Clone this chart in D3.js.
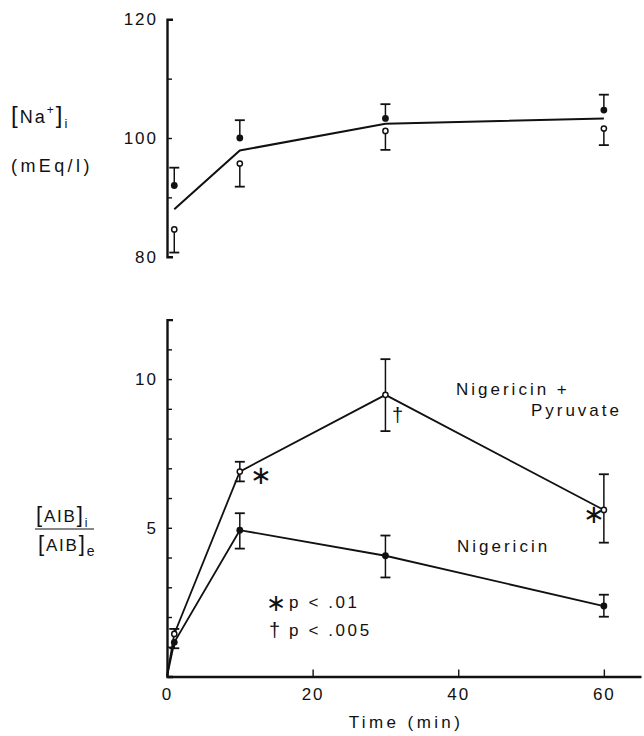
<!DOCTYPE html>
<html>
<head>
<meta charset="utf-8">
<script src="https://cdn.jsdelivr.net/npm/d3@7/dist/d3.min.js"></script>
<style>
  html, body { margin: 0; padding: 0; background: #fff; }
  svg { display: block; }
  text { font-family: "Liberation Sans", "DejaVu Sans", sans-serif; fill: #111; }
  .axis path, .axis line { stroke: #111; }
</style>
</head>
<body>
<svg id="chart" width="644" height="736"></svg>
<script>
// ---- Intracellular sodium (upper panel) ----
const naTimes = [1, 10, 30, 60];
const naFilled = [92.0, 100.0, 103.3, 104.7];      // filled circles
const naFilledErrUp = [3.0, 3.0, 2.4, 2.6];        // SE bars drawn upward
const naOpen = [84.6, 95.7, 101.2, 101.6];         // open circles
const naOpenErrDown = [3.9, 3.9, 3.2, 2.8];        // SE bars drawn downward
const naLine = [88.0, 97.9, 102.4, 103.3];         // connecting line
const naTickLabels = [80, 100, 120];
const naMinorTicks = [90, 110];

// ---- AIB distribution ratio (lower panel) ----
const aibTimes = [0, 1, 10, 30, 60];
const pyruvate = [0, 1.43, 6.89, 9.47, 5.60];      // Nigericin + Pyruvate (open)
const pyruvateErrUp = [0, 0.17, 0.33, 1.20, 1.20];
const pyruvateErrDown = [0, 0, 0.33, 1.22, 1.10];
const nigericin = [0, 1.15, 4.92, 4.06, 2.37];     // Nigericin (filled)
const nigericinErrUp = [0, 0, 0.57, 0.68, 0.38];
const nigericinErrDown = [0, 0.20, 0.62, 0.73, 0.36];
const aibTickLabels = [5, 10];
const aibMinorTicks = [1, 2, 3, 4, 6, 7, 8, 9, 11];
const timeTickLabels = [0, 20, 40, 60];

const svg = d3.select("#chart");
const FONT = "Liberation Sans, DejaVu Sans, sans-serif";

const x = d3.scaleLinear().domain([0, 65.1]).range([167, 641]);
const yNa = d3.scaleLinear().domain([80, 120]).range([256.7, 19.3]);
const yAib = d3.scaleLinear().domain([0, 12]).range([676.5, 319.6]);

function styleAxis(g) {
  g.selectAll(".domain").attr("stroke-width", 2.4);
  g.selectAll("line").attr("stroke-width", 1.4);
  g.selectAll("text").attr("font-size", 17).attr("letter-spacing", "2px")
    .attr("font-family", FONT).attr("fill", "#111");
}

// ---------- upper panel axis ----------
const gNa = svg.append("g").attr("class", "axis").attr("transform", `translate(${x(0)},0)`);
gNa.call(d3.axisLeft(yNa).tickValues(naTickLabels).tickSizeInner(-5).tickSizeOuter(-6).tickPadding(9));
gNa.append("g").call(d3.axisLeft(yNa).tickValues(naMinorTicks).tickSizeInner(-5).tickSizeOuter(0).tickFormat(""))
   .select(".domain").remove();
styleAxis(gNa);

// ---------- lower panel axes ----------
const gAy = svg.append("g").attr("class", "axis").attr("transform", `translate(${x(0)},0)`);
gAy.call(d3.axisLeft(yAib).tickValues(aibTickLabels).tickSizeInner(-5).tickSizeOuter(-6).tickPadding(9));
gAy.append("g").call(d3.axisLeft(yAib).tickValues(aibMinorTicks).tickSizeInner(-5).tickSizeOuter(0).tickFormat(""))
   .select(".domain").remove();
styleAxis(gAy);

const gAx = svg.append("g").attr("class", "axis").attr("transform", `translate(0,${yAib(0)})`);
gAx.call(d3.axisBottom(x).tickValues(timeTickLabels).tickSizeInner(-7).tickSizeOuter(0).tickPadding(11));
styleAxis(gAx);

// ---------- helpers ----------
const CAP = 5;
function errorBar(g, xv, y0, y1) {
  g.append("line").attr("x1", xv).attr("x2", xv).attr("y1", y0).attr("y2", y1)
    .attr("stroke", "#111").attr("stroke-width", 1.5);
  g.append("line").attr("x1", xv - CAP).attr("x2", xv + CAP).attr("y1", y1).attr("y2", y1)
    .attr("stroke", "#111").attr("stroke-width", 1.8);
}
const line = (ys, yScale, ts) => d3.line().x((d, i) => x(ts[i])).y(d => yScale(d))(ys);

// ---------- upper panel marks ----------
const pNa = svg.append("g");
pNa.append("path").attr("d", line(naLine, yNa, naTimes))
  .attr("fill", "none").attr("stroke", "#111").attr("stroke-width", 2);
naTimes.forEach((t, i) => {
  errorBar(pNa, x(t), yNa(naFilled[i]), yNa(naFilled[i] + naFilledErrUp[i]));
  errorBar(pNa, x(t), yNa(naOpen[i]), yNa(naOpen[i] - naOpenErrDown[i]));
  pNa.append("circle").attr("cx", x(t)).attr("cy", yNa(naFilled[i])).attr("r", 3.4).attr("fill", "#111");
  pNa.append("circle").attr("cx", x(t)).attr("cy", yNa(naOpen[i])).attr("r", 2.6)
    .attr("fill", "#fff").attr("stroke", "#111").attr("stroke-width", 1.5);
});

// ---------- lower panel marks ----------
const pA = svg.append("g");
pA.append("path").attr("d", line(nigericin, yAib, aibTimes))
  .attr("fill", "none").attr("stroke", "#111").attr("stroke-width", 1.8);
pA.append("path").attr("d", line(pyruvate, yAib, aibTimes))
  .attr("fill", "none").attr("stroke", "#111").attr("stroke-width", 1.8);
aibTimes.forEach((t, i) => {
  if (t === 0) return;
  const xv = x(t);
  if (nigericinErrUp[i] > 0) errorBar(pA, xv, yAib(nigericin[i]), yAib(nigericin[i] + nigericinErrUp[i]));
  if (nigericinErrDown[i] > 0) errorBar(pA, xv, yAib(nigericin[i]), yAib(nigericin[i] - nigericinErrDown[i]));
  if (pyruvateErrUp[i] > 0) errorBar(pA, xv, yAib(pyruvate[i]), yAib(pyruvate[i] + pyruvateErrUp[i]));
  if (pyruvateErrDown[i] > 0) errorBar(pA, xv, yAib(pyruvate[i]), yAib(pyruvate[i] - pyruvateErrDown[i]));
  pA.append("circle").attr("cx", xv).attr("cy", yAib(nigericin[i])).attr("r", 3.4).attr("fill", "#111");
  pA.append("circle").attr("cx", xv).attr("cy", yAib(pyruvate[i])).attr("r", 2.6)
    .attr("fill", "#fff").attr("stroke", "#111").attr("stroke-width", 1.5);
});

// ---------- text ----------
function txt(xv, yv, s, size, anchor, ls) {
  return svg.append("text").attr("x", xv).attr("y", yv).attr("font-size", size || 16)
    .attr("letter-spacing", ls || "2.6px").attr("text-anchor", anchor || "start")
    .attr("dominant-baseline", "middle").text(s);
}

// [Na+]i label
const na = svg.append("text").attr("x", 11).attr("y", 123).attr("font-size", 18).attr("letter-spacing", "2px");
na.append("tspan").attr("font-size", 24).text("[");
na.append("tspan").text("Na");
na.append("tspan").attr("font-size", 12).attr("dy", -9).text("+");
na.append("tspan").attr("font-size", 24).attr("dy", 9).text("]");
na.append("tspan").attr("font-size", 13).attr("dy", 5).text("i");
txt(11, 167, "(mEq/l)", 18, "start", "3.4px");

// [AIB]i / [AIB]e label
const num = svg.append("text").attr("x", 36).attr("y", 522).attr("font-size", 17).attr("letter-spacing", "1.8px");
num.append("tspan").attr("font-size", 22).text("[");
num.append("tspan").text("AIB");
num.append("tspan").attr("font-size", 22).text("]");
num.append("tspan").attr("font-size", 12).attr("dy", 5).text("i");
svg.append("line").attr("x1", 35).attr("x2", 94).attr("y1", 529).attr("y2", 529)
  .attr("stroke", "#111").attr("stroke-width", 1.2);
const den = svg.append("text").attr("x", 38).attr("y", 551).attr("font-size", 17).attr("letter-spacing", "1.8px");
den.append("tspan").attr("font-size", 22).text("[");
den.append("tspan").text("AIB");
den.append("tspan").attr("font-size", 22).text("]");
den.append("tspan").attr("font-size", 14).attr("dy", 5).text("e");

// series labels
txt(456, 391, "Nigericin  +", 17, "start", "3px");
txt(622, 412, "Pyruvate", 17, "end", "3px");
txt(457, 548, "Nigericin", 17, "start", "3px");

// significance marks
txt(250, 477, "\u2217", 26, "start", "0px");
txt(392, 417, "\u2020", 20, "start", "0px");
txt(583, 516, "\u2217", 26, "start", "0px");

// key
txt(266, 605, "\u2217", 24, "start", "0px");
txt(289, 604, "p <  .01", 17, "start", "2.6px");
txt(269, 632, "\u2020", 20, "start", "0px");
txt(289, 632, "p <  .005", 17, "start", "2.6px");

// x axis title
txt(406, 724, "Time (min)", 17, "middle", "3.4px");
</script>
</body>
</html>
